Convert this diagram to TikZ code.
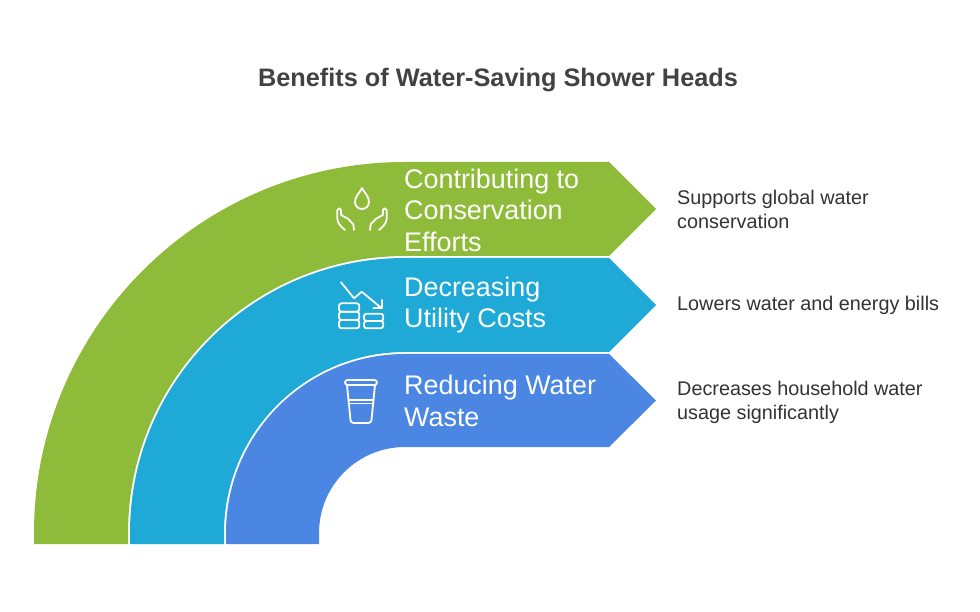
\documentclass[tikz,border=0pt]{standalone}
\usepackage{fontspec}
\setmainfont{Liberation Sans}
\usetikzlibrary{calc}
\definecolor{cgreen}{HTML}{8FBB3A}
\definecolor{cblue}{HTML}{1EA9D6}
\definecolor{cdark}{HTML}{4A86E2}
\definecolor{ctitle}{HTML}{424242}
\definecolor{ctext}{HTML}{333333}
\newcommand\bandpath[3]{(405-#1,67) -- (405-#1,78) arc[start angle=180,end angle=90,radius=#1] -- (609,78+#1) -- (656,#3) -- (609,78+#2) -- (405,78+#2) arc[start angle=90,end angle=180,radius=#2] -- (405-#2,67) -- cycle}
\tikzset{
  titlestyle/.style={font=\bfseries\fontsize{25.3}{30}\selectfont, text=ctitle, inner sep=0pt},
  bandlabel/.style={font=\fontsize{26.9}{31.5}\selectfont, text=white, align=left, anchor=west, inner sep=0pt},
  desc/.style={font=\fontsize{19.8}{24}\selectfont, text=ctext, align=left, anchor=west, inner sep=0pt},
  icon/.style={draw=white, line width=1.8pt, line cap=round, line join=round}
}
\begin{document}
\begin{tikzpicture}[x=1pt,y=1pt]
\useasboundingbox (0,0) rectangle (980,611);
\fill[white] (0,0) rectangle (980,611);
% title
\node[titlestyle] (title) at (498,531) {Benefits of Water-Saving Shower Heads};
% bands
\fill[cgreen] \bandpath{371}{277}{402};
\fill[cblue] \bandpath{275}{181}{306};
\fill[cdark] \bandpath{179}{86}{210.5};
% band labels
\node[bandlabel] (l1) at (404,401) {Contributing to\\Conservation\\Efforts};
\node[bandlabel] (l2) at (404,306) {Decreasing\\Utility Costs};
\node[bandlabel] (l3) at (404,210) {Reducing Water\\Waste};
% descriptions
\node[desc] (d1) at (677,402) {Supports global water\\conservation};
\node[desc] (d2) at (677,306) {Lowers water and energy bills};
\node[desc] (d3) at (677,209) {Decreases household water\\usage significantly};
% icon 1: hands and drop
\draw[icon] (362,423) to[out=-115,in=90] (355,409) arc[start angle=180,end angle=360,radius=7] to[out=90,in=-65] (362,423);
\draw[icon] (345,381) .. controls (341,384) and (337.3,388) .. (337.3,392.7) -- (337.3,401) arc[start angle=180,end angle=0,radius=1.85] -- (341.2,396) -- (348.3,392) -- (353.3,386.7) -- (354,381);
\begin{scope}[shift={(724,0)},xscale=-1]
\draw[icon] (345,381) .. controls (341,384) and (337.3,388) .. (337.3,392.7) -- (337.3,401) arc[start angle=180,end angle=0,radius=1.85] -- (341.2,396) -- (348.3,392) -- (353.3,386.7) -- (354,381);
\end{scope}
% icon 2: falling arrow and coins
\draw[icon] (341,328.7) -- (354,312.7) -- (361.7,319.3) -- (381.7,302.7);
\draw[icon] (381.7,311) -- (381.7,302.7) -- (373.3,302.7);
\draw[icon, rounded corners=2.5pt] (339,299.3) rectangle (359.3,307.7);
\draw[icon, rounded corners=2.5pt] (339,291) rectangle (359.3,299.3);
\draw[icon, rounded corners=2.5pt] (339,282.7) rectangle (359.3,291);
\draw[icon, rounded corners=2.5pt] (364,282.7) rectangle (383.3,290);
\draw[icon, rounded corners=2.5pt] (364,290) rectangle (383.3,297.3);
% icon 3: glass of water
\draw[icon, rounded corners=2.5pt] (345,226) rectangle (377,231);
\draw[icon] (347,226) -- (350.5,191) to[out=-80,in=180] (353.5,188) -- (368.5,188) to[out=0,in=-100] (371.5,191) -- (375,226);
\draw[icon] (348.5,211) -- (373.5,211);
\draw[icon] (348.8,207.5) -- (373.2,207.5);
\end{tikzpicture}
\end{document}
